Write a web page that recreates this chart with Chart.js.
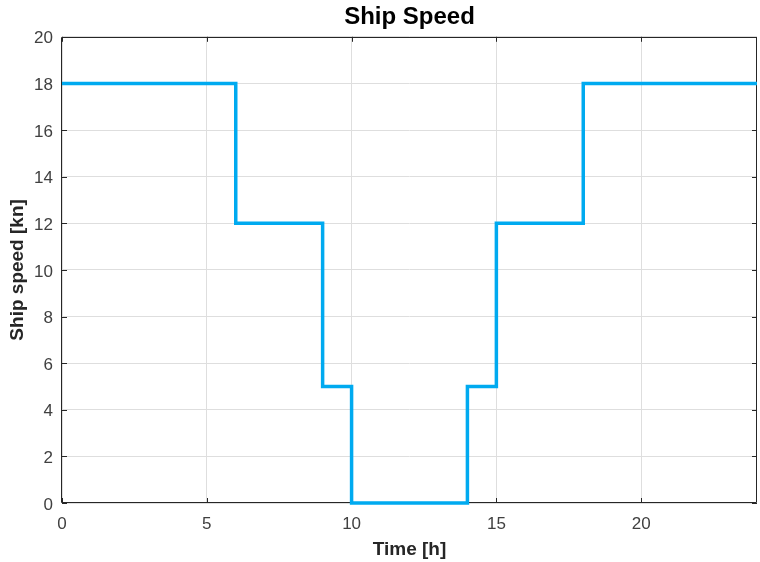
<!DOCTYPE html>
<html>
<head>
<meta charset="utf-8">
<script src="https://cdn.jsdelivr.net/npm/chart.js@4"></script>
<style>
html,body{margin:0;padding:0;background:#fff;}
#wrap{width:760px;height:562px;}
</style>
</head>
<body>
<div id="wrap"><canvas id="c" width="760" height="562"></canvas></div>
<script>
// Step change times [h] and speed that starts at each time [kn]
const timeHours = [0, 6, 9, 10, 14, 15, 18, 24];
const shipSpeedKn = [18, 12, 5, 0, 5, 12, 18, 18];
const xTickValues = [0, 5, 10, 15, 20];
const yTickValues = [0, 2, 4, 6, 8, 10, 12, 14, 16, 18, 20];

const chartTitle = 'Ship Speed';
const xTitle = 'Time [h]';
const yTitle = 'Ship speed [kn]';

const FONT = '"Liberation Sans", Arial, Helvetica, sans-serif';

const points = timeHours.map((t, i) => ({ x: t, y: shipSpeedKn[i] }));

const boxPlugin = {
  id: 'boxTicks',
  beforeDatasetsDraw(chart) {
    const { ctx, chartArea: a, scales } = chart;
    const L = 5;
    ctx.save();
    ctx.strokeStyle = '#262626';
    ctx.lineWidth = 1;
    ctx.beginPath();
    ctx.rect(Math.round(a.left) - 0.5, Math.round(a.top) + 0.5, Math.round(a.right - a.left), Math.round(a.bottom - a.top) - 1);
    ctx.stroke();
    ctx.beginPath();
    xTickValues.forEach(v => {
      const px = Math.round(scales.x.getPixelForValue(v)) + 0.5;
      ctx.moveTo(px, a.bottom); ctx.lineTo(px, a.bottom - L);
      ctx.moveTo(px, a.top); ctx.lineTo(px, a.top + L);
    });
    yTickValues.forEach(v => {
      const py = Math.round(scales.y.getPixelForValue(v)) + 0.5;
      ctx.moveTo(a.left, py); ctx.lineTo(a.left + L, py);
      ctx.moveTo(a.right, py); ctx.lineTo(a.right - L, py);
    });
    ctx.stroke();
    ctx.restore();
  }
};

new Chart(document.getElementById('c'), {
  type: 'line',
  data: {
    datasets: [{
      data: points,
      stepped: 'before',
      borderColor: '#00AAF0',
      borderWidth: 3.5,
      pointRadius: 0,
      fill: false,
      borderJoinStyle: 'miter',
      clip: 4
    }]
  },
  options: {
    responsive: false,
    animation: false,
    layout: { padding: { left: 0, right: 3, top: 0, bottom: 0 } },
    plugins: {
      legend: { display: false },
      tooltip: { enabled: false },
      title: {
        display: true,
        fullSize: false,
        text: chartTitle,
        color: '#000',
        font: { family: FONT, size: 24, weight: 'bold', lineHeight: 1.2 },
        padding: { top: 3, bottom: 5 }
      }
    },
    scales: {
      x: {
        type: 'linear',
        min: 0,
        max: 24,
        afterFit(s) { s.height = 59; },
        afterBuildTicks(s) { s.ticks = xTickValues.map(v => ({ value: v })); },
        ticks: {
          includeBounds: false,
          color: '#404040',
          font: { family: FONT, size: 17 },
          padding: 11,
          maxRotation: 0
        },
        grid: { color: '#dedede', lineWidth: 1, drawTicks: false },
        border: { display: false },
        title: {
          display: true,
          text: xTitle,
          color: '#262626',
          font: { family: FONT, size: 19, weight: 'bold', lineHeight: 1.2 },
          padding: { top: 0, bottom: 1 }
        }
      },
      y: {
        type: 'linear',
        min: 0,
        max: 20,
        afterFit(s) { s.width = 62; },
        afterBuildTicks(s) { s.ticks = yTickValues.map(v => ({ value: v })); },
        ticks: {
          color: '#404040',
          font: { family: FONT, size: 17 },
          padding: 9,
          labelOffset: 2
        },
        grid: { color: '#dedede', lineWidth: 1, drawTicks: false },
        border: { display: false },
        title: {
          display: true,
          text: yTitle,
          color: '#262626',
          font: { family: FONT, size: 19, weight: 'bold', lineHeight: 1.2 },
          padding: { top: 6, bottom: 0 }
        }
      }
    }
  },
  plugins: [boxPlugin]
});
</script>
</body>
</html>
